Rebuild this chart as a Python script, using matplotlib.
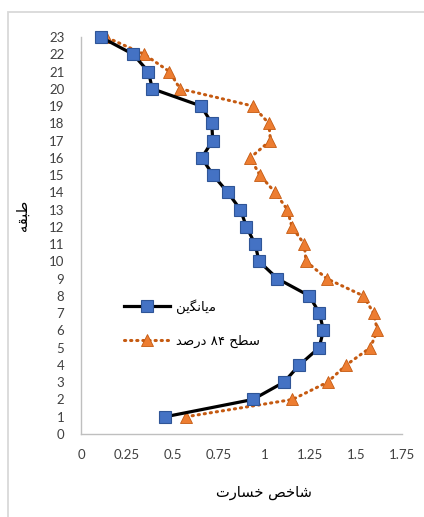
import matplotlib
matplotlib.use("Agg")
import matplotlib.pyplot as plt
from matplotlib.patches import Rectangle

# Storey numbers and damage index values
floors = list(range(1, 24))
mean_index = [0.46, 0.937, 1.106, 1.191, 1.298, 1.322, 1.30, 1.245, 1.071, 0.971,
              0.949, 0.902, 0.869, 0.80, 0.72, 0.658, 0.718, 0.713, 0.655, 0.389,
              0.367, 0.284, 0.107]
p84_index = [0.573, 1.153, 1.344, 1.446, 1.577, 1.616, 1.595, 1.54, 1.34, 1.227,
             1.217, 1.15, 1.125, 1.058, 0.975, 0.922, 1.033, 1.024, 0.937, 0.54,
             0.482, 0.344, 0.135]
x_ticks = [0, 0.25, 0.5, 0.75, 1, 1.25, 1.5, 1.75]
x_tick_labels = ["0", "0.25", "0.5", "0.75", "1", "1.25", "1.5", "1.75"]
y_ticks = list(range(0, 24))

# Persian labels, pre-shaped in visual (left-to-right) order
label_mean = "\uFEE6\uFBFE\uFB95\uFEE7\uFE8E\uFBFE\uFEE3"                  # میانگین
label_p84 = "\uFEAA\uFEBB\uFEAD\uFEA9 \u06F8\u06F4 \uFEA2\uFEC4\uFEB3"      # سطح ۸۴ درصد
label_x = "\uFE95\uFEAD\uFE8E\uFEB4\uFEA7 \uFEBA\uFEA7\uFE8E\uFEB7"          # شاخص خسارت
label_y = "\uFEEA\uFED8\uFE92\uFEC3"                                          # طبقه

W, H = 424, 517
fig = plt.figure(figsize=(W / 100, H / 100), dpi=100)
fig.patch.set_facecolor("white")

# outer chart frame
fig.patches.append(Rectangle((8 / W, -0.05), 1.2, 1 - 12 / H + 0.05,
                             transform=fig.transFigure, fill=False,
                             edgecolor="#d9d9d9", linewidth=1.3))

ax = fig.add_axes([81 / W, 1 - 434 / H, (402 - 81) / W, (434 - 37) / H])

ax.plot(mean_index, floors, color="black", linewidth=2.3, marker="s",
        markersize=8, markerfacecolor="#4472C4", markeredgecolor="#2F5597",
        markeredgewidth=0.8, label=label_mean, zorder=3, clip_on=False)
ax.plot(p84_index, floors, color="#C55A11", linewidth=2.2, linestyle=(0, (0.4, 1.6)),
        dash_capstyle="round", marker="^", markersize=9,
        markerfacecolor="#ED7D31", markeredgecolor="#C55A11",
        markeredgewidth=0.6, label=label_p84, zorder=2, clip_on=False)

ax.set_xlim(0, 1.75)
ax.set_ylim(0, 23)
ax.set_xticks(x_ticks)
ax.set_xticklabels(x_tick_labels)
ax.set_yticks(y_ticks)
ax.tick_params(length=0, labelsize=9.5, colors="#404040")
ax.tick_params(axis="y", pad=12)
ax.tick_params(axis="x", pad=11)
for lab in ax.get_xticklabels() + ax.get_yticklabels():
    lab.set_family(["Lato", "DejaVu Sans"])

for side in ("top", "right"):
    ax.spines[side].set_visible(False)
for side in ("left", "bottom"):
    ax.spines[side].set_color("#bfbfbf")
    ax.spines[side].set_linewidth(1.0)

fig.text(264 / W, 1 - 493 / H, label_x, ha="center", va="center",
         fontsize=10.5, family=["DejaVu Sans"], color="black")
fig.text(22 / W, 1 - 215 / H, label_y, ha="center", va="center", rotation=90,
         fontsize=10.5, family=["DejaVu Sans"], color="black")

leg = ax.legend(loc="center left", bbox_to_anchor=((117 - 81) / 321, (434 - 323.5) / 397),
                frameon=False, borderpad=0, handlelength=3.5, handletextpad=0.5,
                labelspacing=1.6, prop={"family": ["DejaVu Sans"], "size": 9.5})

fig.savefig("out.png", dpi=100, facecolor="white")
